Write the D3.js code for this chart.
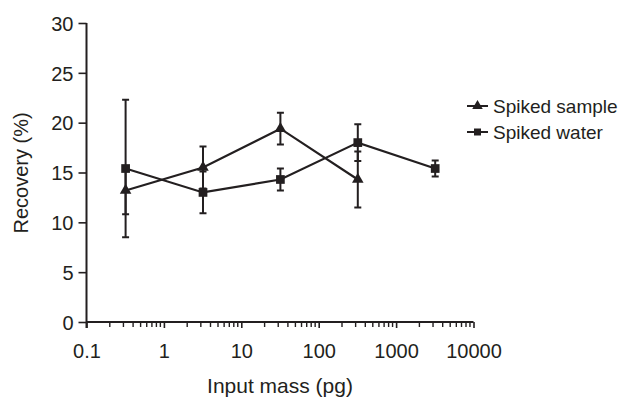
<!DOCTYPE html>
<html>
<head>
<meta charset="utf-8">
<script src="https://cdn.jsdelivr.net/npm/d3@7"></script>
<style>
  html, body { margin: 0; padding: 0; background: #fff; }
  text { font-family: "Liberation Sans", Arial, sans-serif; fill: #231f20; }
</style>
</head>
<body>
<svg id="chart" width="620" height="398"></svg>
<script>
// data
const inputMass = [0.32, 3.2, 32, 320, 3200];
const sampleMean = [13.2, 15.5, 19.4, 14.3];
const sampleErr = [2.4, 2.1, 1.6, 2.8];
const waterMean = [15.4, 13.0, 14.3, 18.0, 15.4];
const waterErr = [6.9, 2.1, 1.1, 1.85, 0.8];
const xTickValues = [0.1, 1, 10, 100, 1000, 10000];
const xTickLabels = ["0.1", "1", "10", "100", "1000", "10000"];
const yTickValues = [0, 5, 10, 15, 20, 25, 30];

const ink = "#231f20";
const svg = d3.select("#chart");

const x = d3.scaleLog().domain([0.1, 10000]).range([86.5, 473.5]);
const y = d3.scaleLinear().domain([0, 30]).range([322, 23]);

// y axis
const yAxis = svg.append("g").attr("transform", "translate(86.5,0)")
  .call(d3.axisLeft(y).tickValues(yTickValues).tickSize(8).tickPadding(5));
yAxis.select(".domain").attr("stroke", ink).attr("stroke-width", 2).attr("d", "M0,23V328");
yAxis.selectAll(".tick line").attr("stroke", ink).attr("stroke-width", 1.6);
yAxis.selectAll(".tick text").style("font-size", "20px").attr("fill", ink).attr("dy", "0.36em");

// x axis, decade ticks plus minor ones
const minorTicks = [];
for (let d = 0.1; d < 10000; d *= 10) {
  for (let k = 2; k <= 9; k++) minorTicks.push(d * k);
}
const xAxis = svg.append("g").attr("transform", "translate(0,322)")
  .call(d3.axisBottom(x).tickValues(xTickValues).tickSize(6).tickPadding(0)
    .tickFormat((d, i) => xTickLabels[i]));
xAxis.select(".domain").attr("stroke", ink).attr("stroke-width", 2).attr("d", "M86.5,0H473.5");
xAxis.selectAll(".tick line").attr("stroke", ink).attr("stroke-width", 1.6);
xAxis.selectAll(".tick text").style("font-size", "20px").attr("fill", ink)
  .attr("dy", 0).attr("y", 36);
xAxis.selectAll(".minor").data(minorTicks).enter().append("line")
  .attr("class", "minor")
  .attr("x1", d => x(d)).attr("x2", d => x(d))
  .attr("y1", 0).attr("y2", 5)
  .attr("stroke", ink).attr("stroke-width", 1.4);

// axis titles
svg.append("text").attr("x", 280).attr("y", 393).attr("text-anchor", "middle")
  .style("font-size", "21px").text("Input mass (pg)");
svg.append("text").attr("transform", "translate(28,173) rotate(-90)")
  .attr("text-anchor", "middle").style("font-size", "20px").text("Recovery (%)");

const sampleData = sampleMean.map((m, i) => ({ x: inputMass[i], m, e: sampleErr[i] }));
const waterData = waterMean.map((m, i) => ({ x: inputMass[i], m, e: waterErr[i] }));

const line = d3.line().x(d => x(d.x)).y(d => y(d.m));

function drawErrors(data) {
  const g = svg.append("g").attr("stroke", ink).attr("stroke-width", 2).attr("fill", "none");
  g.selectAll("path").data(data).enter().append("path")
    .attr("d", d => {
      const cx = x(d.x), t = y(d.m + d.e), b = y(d.m - d.e);
      return `M${cx},${t}V${b}M${cx - 3.5},${t}H${cx + 3.5}M${cx - 3.5},${b}H${cx + 3.5}`;
    });
}
drawErrors(waterData);
drawErrors(sampleData);

svg.append("path").datum(waterData).attr("d", line)
  .attr("fill", "none").attr("stroke", ink).attr("stroke-width", 2.2);
svg.append("path").datum(sampleData).attr("d", line)
  .attr("fill", "none").attr("stroke", ink).attr("stroke-width", 2.2);

const tri = d3.symbol().type(d3.symbolTriangle).size(58);
const sq = d3.symbol().type(d3.symbolSquare).size(76);

svg.selectAll(".sq").data(waterData).enter().append("path")
  .attr("class", "sq").attr("d", sq).attr("fill", ink)
  .attr("transform", d => `translate(${x(d.x)},${y(d.m)})`);
svg.selectAll(".tri").data(sampleData).enter().append("path")
  .attr("class", "tri").attr("d", tri).attr("fill", ink)
  .attr("transform", d => `translate(${x(d.x)},${y(d.m)})`);

// legend
const legend = [
  { label: "Spiked sample", sym: d3.symbol().type(d3.symbolTriangle).size(48), y: 106 },
  { label: "Spiked water", sym: d3.symbol().type(d3.symbolSquare).size(49), y: 132 }
];
const lg = svg.selectAll(".lg").data(legend).enter().append("g")
  .attr("transform", d => `translate(0,${d.y})`);
lg.append("line").attr("x1", 467).attr("x2", 488).attr("stroke", ink).attr("stroke-width", 2);
lg.append("path").attr("d", d => d.sym()).attr("fill", ink)
  .attr("transform", "translate(477.5,0)");
lg.append("text").attr("x", 493).attr("dy", "0.36em").style("font-size", "19px")
  .text(d => d.label);
</script>
</body>
</html>
